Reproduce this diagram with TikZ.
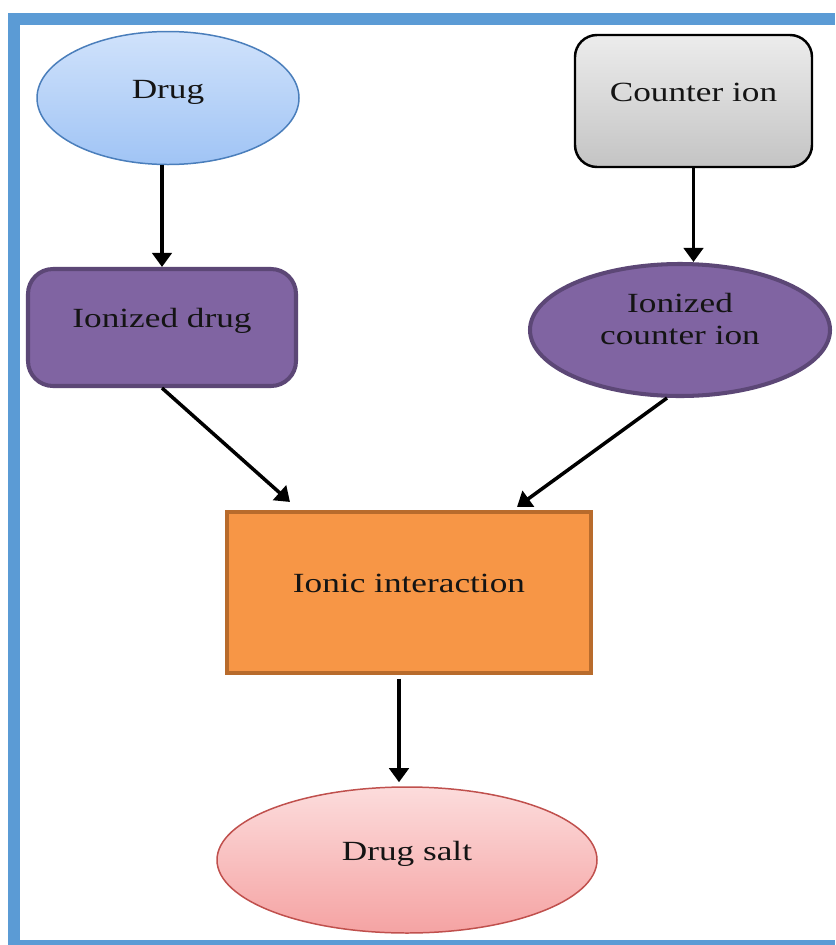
\documentclass[tikz,border=0pt]{standalone}
\usepackage{fontspec}
\setmainfont[FakeStretch=1.27]{Liberation Serif}
\usetikzlibrary{arrows.meta,calc,shapes.geometric}

\definecolor{framecol}{RGB}{91,155,213}
\definecolor{drugtop}{RGB}{208,226,251}
\definecolor{drugbot}{RGB}{160,196,245}
\definecolor{drugline}{RGB}{74,126,187}
\definecolor{greytop}{RGB}{236,236,236}
\definecolor{greybot}{RGB}{196,196,196}
\definecolor{violetfill}{RGB}{128,100,162}
\definecolor{violetline}{RGB}{92,71,118}
\definecolor{orangefill}{RGB}{247,150,70}
\definecolor{orangeline}{RGB}{184,107,44}
\definecolor{salttop}{RGB}{252,220,220}
\definecolor{saltbot}{RGB}{245,163,163}
\definecolor{saltline}{RGB}{192,80,77}

\tikzset{
	box/.style={draw, inner sep=0pt, text=black!92, align=center,
		font=\fontsize{15.8}{18.7}\selectfont, text height=10pt, text depth=10pt},
	oval/.style={box, ellipse},
	flowarrow/.style={line width=2pt, -{Triangle[length=8pt,width=11pt]}},
}

\begin{document}
\begin{tikzpicture}
			%%%%% FRAME %%%%%
			\useasboundingbox (0, 0) rectangle (16.7, -18.9);
			\fill[framecol] (0.16, -0.26) rectangle (16.7, -18.9);
			\fill[white] (0.4, -0.5) rectangle (16.7, -18.8);
			
			%%%%% NODES %%%%%
			\node[oval, line width=0.85pt, draw=drugline, top color=drugtop, bottom color=drugbot,
				minimum width=5.24cm, minimum height=2.66cm] (drug) at (3.36, -1.96) {Drug};
			\node[box, line width=1.4pt, rounded corners=0.44cm, top color=greytop, bottom color=greybot,
				minimum width=4.74cm, minimum height=2.64cm] (counter) at (13.87, -2.02) {Counter ion};
			
			\node[box, line width=2.3pt, rounded corners=0.5cm, draw=violetline, fill=violetfill,
				minimum width=5.36cm, minimum height=2.34cm] (idrug) at (3.24, -6.55) {Ionized drug};
			\node[oval, line width=2.3pt, draw=violetline, fill=violetfill, text height=27pt,
				minimum width=6.0cm, minimum height=2.64cm] (icounter) at (13.6, -6.6) {Ionized\\counter ion};
			
			\node[box, line width=2.3pt, draw=orangeline, fill=orangefill,
				minimum width=7.28cm, minimum height=3.22cm] (ionic) at (8.18, -11.85) {Ionic interaction};
			
			\node[oval, line width=0.85pt, draw=saltline, top color=salttop, bottom color=saltbot,
				minimum width=7.6cm, minimum height=2.92cm] (salt) at (8.14, -17.2) {Drug salt};
			
			%%%%% ARROWS %%%%%
			\draw[flowarrow] (idrug.north |- drug.south) -- (idrug.north);
			\draw[flowarrow] (counter.south) -- (counter.south |- icounter.north);
			\draw[flowarrow] (idrug.south) -- ([xshift=1.3cm, yshift=0.16cm]ionic.north west);
			\draw[flowarrow] ([xshift=-0.26cm]icounter.south) -- ([xshift=-1.52cm, yshift=0.06cm]ionic.north east);
			\draw[flowarrow, shorten <=2pt] ([xshift=-0.2cm]ionic.south) -- ([xshift=-0.2cm, yshift=0.08cm]ionic.south |- salt.north);
			
\end{tikzpicture}
\end{document}
